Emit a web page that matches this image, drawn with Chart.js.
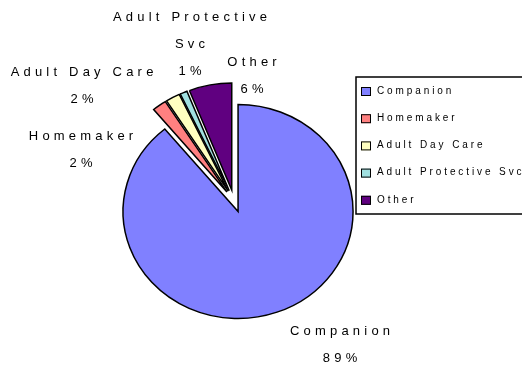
<!DOCTYPE html>
<html>
<head>
<meta charset="utf-8">
<script src="https://cdn.jsdelivr.net/npm/chart.js@4.4.1/dist/chart.umd.min.js"></script>
<style>
  html, body { margin: 0; padding: 0; background: #fff; overflow: hidden; }
  canvas { display: block; }
</style>
</head>
<body>
<canvas id="pie" width="522" height="366"></canvas>
<script>
// Service mix, percent of clients
const categories = ['Companion', 'Homemaker', 'Adult Day Care', 'Adult Protective Svc', 'Other'];
const shares = [89, 2, 2, 1, 6];
const sliceColors = ['#8080ff', '#ff8080', '#ffffc0', '#a0e0e0', '#600080'];

// callout text around the pie, name split where it wraps
const calloutLines = [['Companion'], ['Homemaker'], ['Adult Day Care'], ['Adult Protective', 'Svc'], ['Other']];

const FONT = '"Liberation Sans", Arial, sans-serif';

// every slice pulled out from the centre, pie a touch flatter than wide
const exploded = {
  id: 'exploded',
  beforeDatasetDraw(chart, args, opts) {
    const arcs = args.meta.data;
    const ctx = chart.ctx;
    const c = arcs[0];
    ctx.save();
    ctx.translate(c.x, c.y);
    ctx.scale(1, opts.squash);
    ctx.translate(-c.x, -c.y);
    arcs.forEach(a => {
      const mid = (a.startAngle + a.endAngle) / 2;
      ctx.save();
      ctx.translate(Math.cos(mid) * opts.distance, Math.sin(mid) * opts.distance);
      a.draw(ctx);
      ctx.restore();
    });
    ctx.restore();
    return false;
  }
};

// outside labels: name line(s) then the percentage
const callouts = {
  id: 'callouts',
  afterDraw(chart, args, opts) {
    const ctx = chart.ctx;
    const half = parseFloat(opts.spacing) / 2;
    ctx.save();
    ctx.fillStyle = '#000';
    ctx.font = opts.font;
    ctx.letterSpacing = opts.spacing;
    ctx.textAlign = 'center';
    ctx.textBaseline = 'middle';
    shares.forEach((v, i) => {
      const [x, y] = opts.anchors[i];
      const lines = calloutLines[i];
      lines.forEach((t, k) => ctx.fillText(t, x + half, y + k * opts.lineHeight));
      ctx.fillText(v + '%', x + half, y + lines.length * opts.lineHeight);
    });
    ctx.restore();
  }
};

// boxed legend on the right, runs off the edge
const boxLegend = {
  id: 'boxLegend',
  afterDraw(chart, args, opts) {
    const ctx = chart.ctx;
    ctx.save();
    ctx.fillStyle = '#fff';
    ctx.strokeStyle = '#000';
    ctx.lineWidth = 1.5;
    ctx.fillRect(opts.x, opts.y, opts.w, opts.h);
    ctx.strokeRect(opts.x, opts.y, opts.w, opts.h);
    ctx.font = opts.font;
    ctx.letterSpacing = opts.spacing;
    ctx.textAlign = 'left';
    ctx.textBaseline = 'middle';
    categories.forEach((name, i) => {
      const cy = opts.y + opts.first + i * opts.row;
      ctx.fillStyle = sliceColors[i];
      ctx.fillRect(opts.x + 5, cy - 4, 10, 9);
      ctx.lineWidth = 1;
      ctx.strokeRect(opts.x + 5.5, cy - 3.5, 9, 8);
      ctx.fillStyle = '#000';
      ctx.fillText(name, opts.x + 21, cy);
    });
    ctx.restore();
  }
};

new Chart(document.getElementById('pie'), {
  type: 'pie',
  data: {
    labels: categories,
    datasets: [{
      data: shares,
      backgroundColor: sliceColors,
      borderColor: '#000',
      borderWidth: 1.5,
      borderJoinStyle: 'miter',
      hoverOffset: 0,
      clip: false
    }]
  },
  options: {
    responsive: false,
    animation: false,
    radius: 115,
    layout: { padding: { left: 0, right: 54, top: 36, bottom: 0 } },
    events: [],
    plugins: {
      legend: { display: false },
      tooltip: { enabled: false },
      exploded: { distance: 12, squash: 107 / 115 },
      callouts: {
        font: '13px ' + FONT,
        spacing: '4.2px',
        lineHeight: 27.4,
        anchors: [[340, 331], [81, 136], [82, 72.5], [190, 17], [252, 62.5]]
      },
      boxLegend: {
        x: 356, y: 77, w: 200, h: 137,
        first: 14, row: 27.2,
        font: '10px ' + FONT,
        spacing: '2.9px'
      }
    }
  },
  plugins: [exploded, callouts, boxLegend]
});
</script>
</body>
</html>
